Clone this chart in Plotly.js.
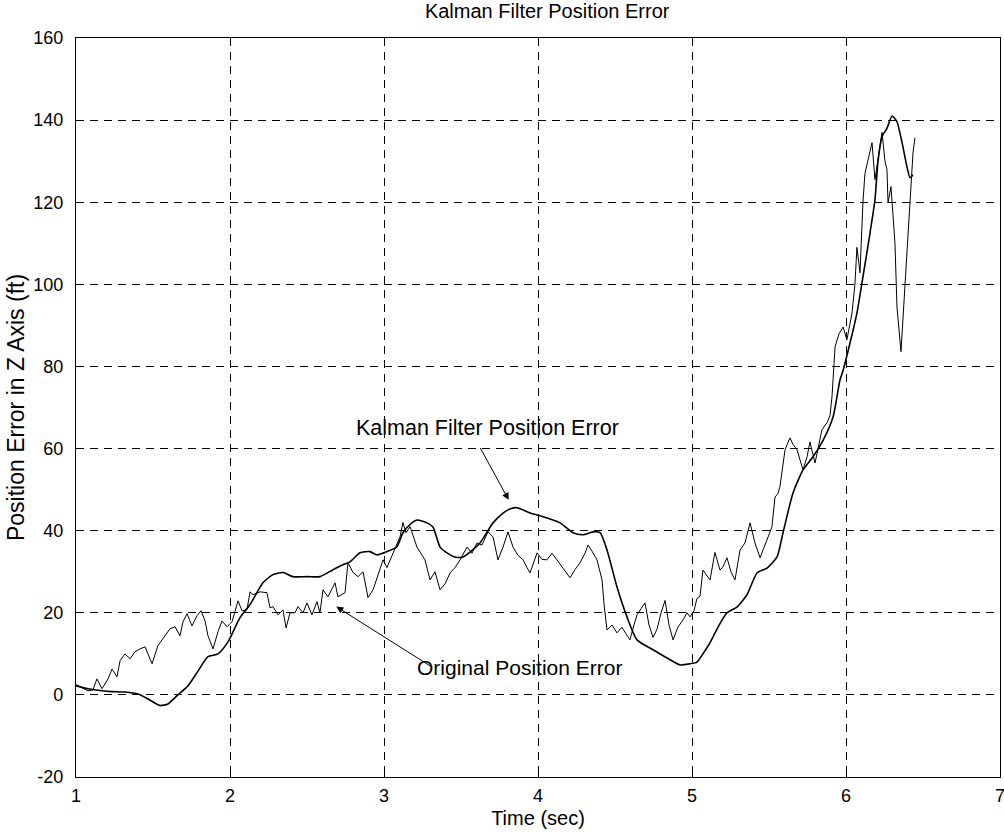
<!DOCTYPE html>
<html>
<head>
<meta charset="utf-8">
<script src="https://cdn.plot.ly/plotly-3.0.1.min.js"></script>
<style>html,body{margin:0;padding:0;background:#fff;}#chart{width:1004px;height:836px;}</style>
</head>
<body>
<div id="chart"></div>
<script>
// Original (noisy) position error
const origTime = [1.000,1.078,1.110,1.136,1.169,1.208,1.234,1.266,1.286,1.318,1.351,1.383,1.416,1.448,1.494,1.532,1.578,1.610,1.643,1.675,1.695,1.721,1.753,1.786,1.812,1.838,1.857,1.890,1.922,1.948,1.981,2.013,2.052,2.078,2.110,2.130,2.149,2.195,2.240,2.260,2.279,2.312,2.344,2.364,2.390,2.422,2.442,2.474,2.500,2.532,2.565,2.584,2.604,2.636,2.682,2.701,2.747,2.766,2.799,2.831,2.864,2.896,2.929,2.974,2.994,3.019,3.058,3.104,3.123,3.143,3.169,3.214,3.266,3.299,3.331,3.364,3.396,3.429,3.461,3.494,3.539,3.571,3.604,3.636,3.675,3.708,3.740,3.773,3.805,3.838,3.870,3.903,3.929,3.948,3.994,4.026,4.058,4.091,4.123,4.162,4.208,4.240,4.273,4.305,4.325,4.351,4.383,4.416,4.429,4.448,4.481,4.513,4.545,4.578,4.597,4.623,4.643,4.669,4.695,4.721,4.747,4.773,4.799,4.825,4.851,4.877,4.909,4.942,4.968,4.987,5.013,5.032,5.052,5.071,5.097,5.117,5.149,5.182,5.201,5.227,5.253,5.279,5.312,5.344,5.377,5.409,5.442,5.468,5.487,5.519,5.539,5.558,5.571,5.591,5.604,5.636,5.656,5.682,5.701,5.721,5.747,5.766,5.799,5.818,5.844,5.877,5.896,5.909,5.929,5.955,5.981,6.006,6.039,6.058,6.071,6.091,6.110,6.123,6.143,6.169,6.188,6.208,6.234,6.253,6.266,6.273,6.292,6.318,6.331,6.357,6.383,6.403,6.422,6.435,6.448];
const origError = [2.5,1.0,1.2,3.9,1.5,3.9,6.3,4.4,8.3,10.0,8.8,10.5,11.2,11.7,7.6,12.0,14.4,16.1,16.6,14.4,17.8,19.8,16.8,19.3,20.5,18.0,14.4,11.2,15.4,18.0,16.6,17.8,22.9,20.5,20.7,25.1,24.4,25.1,24.9,21.2,21.5,19.5,20.7,16.3,20.0,20.0,21.5,20.0,22.4,19.5,22.7,20.0,25.6,23.9,27.3,23.9,24.9,32.2,29.8,28.8,30.0,23.7,25.6,30.5,32.9,31.0,34.6,38.5,42.0,39.5,41.0,36.0,32.9,28.0,30.0,25.6,27.0,29.7,31.0,32.9,36.0,34.5,37.0,36.5,39.7,38.5,32.9,36.0,39.7,36.0,34.0,32.9,31.0,29.7,34.6,33.0,32.9,34.5,32.9,31.0,28.5,30.5,32.2,34.5,36.5,35.0,32.9,28.0,22.0,15.8,17.0,15.1,16.5,14.5,13.4,17.0,19.5,21.0,22.4,17.0,14.0,16.0,20.0,23.0,17.0,13.4,16.5,18.3,20.0,19.0,20.5,23.5,24.0,30.4,29.0,28.0,34.7,30.4,31.2,33.4,30.0,28.0,35.3,37.0,41.9,37.0,33.4,36.0,37.8,40.9,48.2,49.0,50.7,57.0,59.7,62.6,61.0,59.7,57.0,54.8,58.0,61.6,56.5,60.0,64.6,66.3,68.0,72.6,84.8,88.0,89.6,86.5,93.0,100.0,109.0,102.8,120.0,127.0,130.0,134.5,125.5,131.0,137.0,130.0,128.0,119.8,123.8,110.0,94.5,83.6,99.4,110.8,122.0,132.0,135.7];

// Kalman filter position error (smooth)
const kalTime = [1.000,1.078,1.169,1.234,1.318,1.403,1.468,1.545,1.597,1.662,1.727,1.792,1.857,1.922,1.987,2.065,2.130,2.214,2.279,2.344,2.409,2.500,2.584,2.669,2.734,2.779,2.844,2.909,2.955,3.019,3.084,3.123,3.169,3.214,3.279,3.318,3.364,3.409,3.461,3.513,3.623,3.708,3.773,3.818,3.864,3.948,4.032,4.143,4.227,4.292,4.357,4.403,4.448,4.513,4.578,4.643,4.747,4.838,4.922,4.987,5.032,5.071,5.117,5.169,5.227,5.292,5.357,5.422,5.487,5.552,5.591,5.656,5.721,5.786,5.851,5.916,5.961,5.981,6.026,6.071,6.110,6.156,6.188,6.208,6.234,6.266,6.299,6.331,6.364,6.396,6.416,6.435];
const kalError = [2.2,1.5,1.0,0.8,0.7,0.2,-1.0,-2.6,-2.2,0.0,2.2,5.8,9.3,10.0,12.9,18.8,22.0,27.3,29.3,29.8,28.8,28.8,28.8,30.5,31.7,32.4,34.6,34.9,34.1,34.9,36.1,39.5,41.5,42.6,41.9,40.9,36.0,34.6,33.6,33.6,37.0,41.9,44.3,45.3,45.6,44.3,43.4,41.9,39.5,39.0,39.7,39.5,35.3,26.3,19.0,13.4,11.0,9.0,7.3,7.6,8.0,10.0,12.7,16.5,20.0,21.4,24.4,29.7,30.9,33.6,39.5,49.2,54.8,58.0,62.0,67.7,76.7,79.0,85.7,93.0,101.8,112.5,120.6,130.0,136.0,138.0,141.0,139.6,134.5,128.6,126.0,126.7];

const xTicks = [1,2,3,4,5,6,7];
const yTicks = [-20,0,20,40,60,80,100,120,140,160];
const yTickLabels = ['-20','0','20','40','60','80','100','120','140','160'];

const font = {family: 'Liberation Sans, Arial, sans-serif', color: '#000'};
const f = (s) => Object.assign({size: s}, font);

const traces = [
  {x: origTime, y: origError, mode: 'lines', line: {color: '#000', width: 1}, hoverinfo: 'skip'},
  {x: kalTime, y: kalError, mode: 'lines', line: {color: '#000', width: 1.6, shape: 'spline', smoothing: 0.6}, hoverinfo: 'skip'}
];

const axisCommon = {
  showline: true, linecolor: '#000', linewidth: 1.2, mirror: true,
  showgrid: true, gridcolor: '#000', gridwidth: 1, griddash: '8px,6px',
  zeroline: false, ticks: 'inside', ticklen: 5, tickcolor: '#000',
  tickfont: f(18), ticklabeloverflow: 'allow'
};

const layout = {
  width: 1004, height: 836,
  margin: {l: 76, r: 4, t: 38, b: 59},
  paper_bgcolor: '#fff', plot_bgcolor: '#fff',
  showlegend: false,
  font: font,
  title: {text: 'Kalman Filter Position Error', font: f(20), x: 0.545, xanchor: 'center', y: 0.995, yanchor: 'top'},
  xaxis: Object.assign({}, axisCommon, {range: [1, 7], tickvals: xTicks, ticktext: xTicks.map(String),
    ticklabelstandoff: 2,
    title: {text: 'Time (sec)', font: f(20), standoff: 6}}),
  yaxis: Object.assign({}, axisCommon, {range: [-20, 160], tickvals: yTicks, ticktext: yTickLabels,
    ticklabelstandoff: 8,
    title: {text: 'Position Error in Z Axis (ft)', font: f(23), standoff: 2}}),
  annotations: [
    {x: 3.81, y: 47.5, ax: 3.62, ay: 60.5, xref: 'x', yref: 'y', axref: 'x', ayref: 'y',
     showarrow: true, arrowhead: 2, arrowsize: 1.4, arrowwidth: 1, arrowcolor: '#000', text: ''},
    {x: 3.67, y: 65.1, xref: 'x', yref: 'y', text: 'Kalman Filter Position Error', showarrow: false,
     font: f(21.5)},
    {x: 2.69, y: 21.5, ax: 3.31, ay: 6.8, xref: 'x', yref: 'y', axref: 'x', ayref: 'y',
     showarrow: true, arrowhead: 2, arrowsize: 1.4, arrowwidth: 1, arrowcolor: '#000', text: ''},
    {x: 3.88, y: 6.6, xref: 'x', yref: 'y', text: 'Original Position Error', showarrow: false,
     font: f(21)}
  ]
};

Plotly.newPlot('chart', traces, layout, {displayModeBar: false, staticPlot: true});
</script>
</body>
</html>
